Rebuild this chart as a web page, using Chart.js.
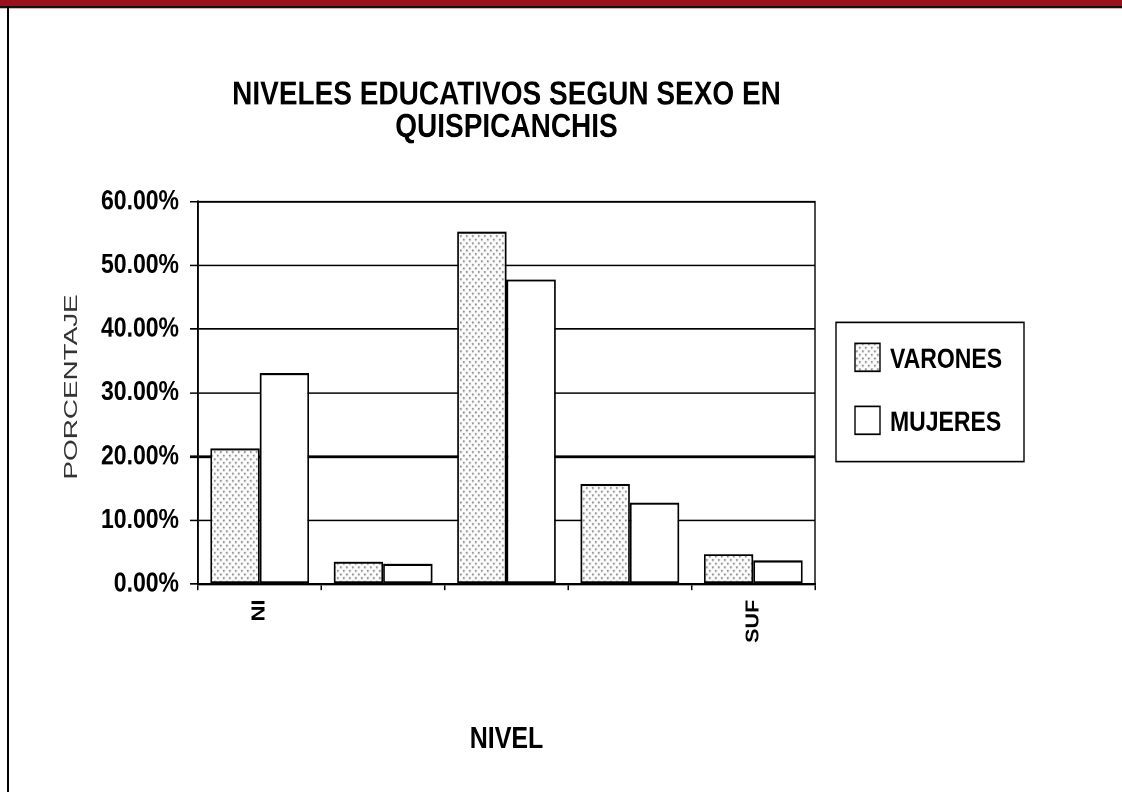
<!DOCTYPE html>
<html>
<head>
<meta charset="utf-8">
<title>Niveles educativos según sexo en Quispicanchis</title>
<script src="https://cdn.jsdelivr.net/npm/chart.js@4.4.1/dist/chart.umd.min.js"></script>
<style>
  html, body { margin: 0; padding: 0; background: #fff; }
  body { width: 1122px; height: 792px; position: relative; overflow: hidden; }
  /* the chart is laid out on a 1122x660 canvas and shown 1.2x taller */
  #wrap { position: absolute; left: 0; top: 0; width: 1122px; height: 660px;
          transform: scaleY(1.2); transform-origin: 0 0; }
  .band  { position: absolute; left: 0; top: 0; width: 1122px; height: 6px; background: #98111c; }
  .rule  { position: absolute; left: 0; top: 6px; width: 1122px; height: 2px; background: #111; }
  .rule2 { position: absolute; left: 0; top: 8px; width: 1122px; height: 1px; background: #d9b3b7; }
  .side  { position: absolute; left: 7px; top: 7px; width: 2px; height: 785px; background: #000; }
</style>
</head>
<body>
<div id="wrap"><canvas id="chart" width="1122" height="660"></canvas></div>
<div class="band"></div><div class="rule"></div><div class="rule2"></div><div class="side"></div>
<script>
// Data (percent of population per education level)
const categories  = ['NI', '', '', '', 'SUF'];
const seriesNames = ['VARONES', 'MUJERES'];
const varones     = [21.3, 3.5, 55.3, 15.7, 4.7];
const mujeres     = [33.1, 3.2, 47.8, 12.8, 3.7];
const yTicks      = [0, 10, 20, 30, 40, 50, 60];
const titleLines  = ['NIVELES EDUCATIVOS SEGUN SEXO EN', 'QUISPICANCHIS'];
const xTitle      = 'NIVEL';
const yTitle      = 'PORCENTAJE';

const SANS = '"Liberation Sans", Arial, sans-serif';

// Light dotted fill used for the first series
function dottedPattern() {
  const t = document.createElement('canvas');
  t.width = 6; t.height = 6;
  const g = t.getContext('2d');
  g.fillStyle = '#ffffff';
  g.fillRect(0, 0, 6, 6);
  g.fillStyle = '#5e5e5e';
  g.fillRect(1, 1, 1.6, 1.4);
  g.fillRect(4, 4, 1.6, 1.4);
  return g.createPattern(t, 'repeat');
}

// Frame around the plot area
const plotFrame = {
  id: 'plotFrame',
  beforeDatasetsDraw(chart) {
    const a = chart.chartArea, c = chart.ctx;
    c.save();
    c.strokeStyle = '#000';
    c.lineWidth = 1.4;
    c.strokeRect(a.left, a.top, a.right - a.left, a.bottom - a.top);
    c.restore();
  }
};

// Vertical axis title, drawn stretched along its reading direction
const yAxisTitle = {
  id: 'yAxisTitle',
  afterDraw(chart) {
    const a = chart.chartArea, c = chart.ctx;
    const text = chart.scales.y.options.title.text;
    c.save();
    c.translate(72, (a.top + a.bottom) / 2 - 5);
    c.rotate(-Math.PI / 2);
    c.scale(1.29, 1);
    c.font = '18px ' + SANS;
    c.fillStyle = '#333333';
    c.textAlign = 'center';
    c.textBaseline = 'middle';
    c.fillText(text, 0, 0);
    c.restore();
  }
};

// Boxed legend at the right of the plot
const boxedLegend = {
  id: 'boxedLegend',
  afterDraw(chart) {
    const a = chart.chartArea, c = chart.ctx;
    const bx = a.right + 21, by = a.top + 100.5, bw = 188, bh = 116;
    c.save();
    c.lineWidth = 1.4;
    c.strokeStyle = '#000';
    c.strokeRect(bx, by, bw, bh);
    chart.data.datasets.forEach((ds, i) => {
      const sy = by + 17.5 + i * 52.5;
      c.fillStyle = ds.backgroundColor;
      c.fillRect(bx + 19, sy, 25, 23.3);
      c.strokeRect(bx + 19, sy, 25, 23.3);
      c.fillStyle = '#000';
      c.font = 'bold 23px ' + SANS;
      c.textAlign = 'left';
      c.textBaseline = 'middle';
      c.fillText(ds.label, bx + 54, sy + 14);
    });
    c.restore();
  }
};

const fills = [dottedPattern(), '#ffffff'];
const values = [varones, mujeres];

new Chart(document.getElementById('chart'), {
  type: 'bar',
  data: {
    labels: categories,
    datasets: seriesNames.map((name, i) => ({
      label: name,
      data: values[i],
      backgroundColor: fills[i],
      borderColor: '#000',
      borderWidth: 1.8,
      borderSkipped: false,
      categoryPercentage: 0.8,
      barPercentage: 1.0
    }))
  },
  options: {
    responsive: false,
    animation: false,
    devicePixelRatio: 2,
    layout: { padding: { left: 10, right: 307, top: 66, bottom: 24.3 } },
    plugins: {
      legend: { display: false },
      tooltip: { enabled: false },
      title: {
        display: true,
        text: titleLines,
        fullSize: false,
        color: '#000',
        font: { family: SANS, size: 28, weight: 'bold', lineHeight: 26.7 / 28 },
        padding: { top: 0, bottom: 48.7 }
      }
    },
    scales: {
      x: {
        grid: { drawOnChartArea: false, drawTicks: true, tickLength: 5, color: '#000', lineWidth: 1.5, offset: true },
        border: { display: true, color: '#000', width: 1.8 },
        ticks: {
          color: '#000',
          autoSkip: false,
          minRotation: 90,
          maxRotation: 90,
          padding: 8,
          font: { family: SANS, size: 18, weight: 'bold' }
        },
        title: {
          display: true,
          text: xTitle,
          color: '#000',
          font: { family: SANS, size: 25, weight: 'bold', lineHeight: 1.2 },
          padding: { top: 0, bottom: 4 }
        },
        afterFit(s) { s.height = 149; }
      },
      y: {
        min: yTicks[0],
        max: yTicks[yTicks.length - 1],
        afterBuildTicks(s) { s.ticks = yTicks.map(v => ({ value: v })); },
        grid: {
          color: '#000',
          lineWidth: ctx => (ctx.tick && ctx.tick.value === 20 ? 2.2 : 1.25),
          tickLength: 8,
          drawTicks: true
        },
        border: { display: true, color: '#000', width: 1.8 },
        ticks: {
          color: '#000',
          padding: 11,
          font: { family: SANS, size: 23, weight: 'bold' },
          callback: v => v.toFixed(2) + '%'
        },
        title: { display: false, text: yTitle },
        afterFit(s) { s.width = 188; }
      }
    }
  },
  plugins: [plotFrame, yAxisTitle, boxedLegend]
});
</script>
</body>
</html>
